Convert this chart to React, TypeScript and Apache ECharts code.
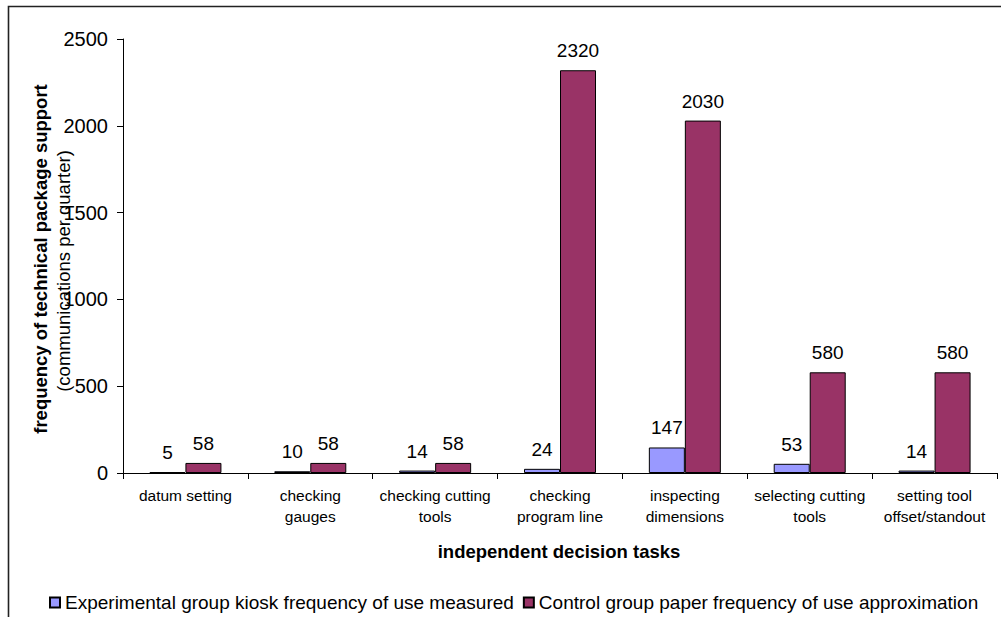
import React, { useEffect, useRef } from "react";
import * as echarts from "echarts";

const categories = [
  "datum setting",
  "checking\ngauges",
  "checking cutting\ntools",
  "checking\nprogram line",
  "inspecting\ndimensions",
  "selecting cutting\ntools",
  "setting tool\noffset/standout",
];
const experimentalValues = [5, 10, 14, 24, 147, 53, 14];
const controlValues = [58, 58, 58, 2320, 2030, 580, 580];
const seriesNames = [
  "Experimental group kiosk frequency of use measured",
  "Control group paper frequency of use approximation",
];
const yTicks = { min: 0, max: 2500, interval: 500 };

const FONT = "'Liberation Sans', Arial, Helvetica, sans-serif";

export default function App() {
  const ref = useRef<HTMLDivElement>(null);

  useEffect(() => {
    if (!ref.current) return;
    const chart = echarts.init(ref.current, null, { renderer: "svg" });

    const valueLabel = {
      show: true,
      position: "top",
      distance: 10,
      color: "#000",
      fontSize: 19,
      fontFamily: FONT,
    };

    chart.setOption({
      animation: false,
      textStyle: { fontFamily: FONT },
      grid: { left: 123, right: 4, top: 39, bottom: 144, containLabel: false },
      legend: {
        left: 44,
        top: 588,
        icon: "rect",
        itemWidth: 10,
        itemHeight: 10,
        itemGap: 9,
        textStyle: { fontSize: 19, color: "#000", fontFamily: FONT },
        data: seriesNames,
      },
      xAxis: {
        type: "category",
        data: categories,
        axisLine: { lineStyle: { color: "#000", width: 1 } },
        axisTick: { show: true, length: 6, lineStyle: { color: "#000" } },
        axisLabel: {
          interval: 0,
          margin: 12,
          color: "#000",
          fontSize: 15.5,
          lineHeight: 21,
          fontFamily: FONT,
          align: "center",
        },
      },
      yAxis: {
        type: "value",
        min: yTicks.min,
        max: yTicks.max,
        interval: yTicks.interval,
        axisLine: { show: true, lineStyle: { color: "#000", width: 1 } },
        axisTick: { show: true, length: 6, lineStyle: { color: "#000" } },
        splitLine: { show: false },
        axisLabel: {
          margin: 15,
          color: "#000",
          fontSize: 20,
          fontFamily: FONT,
          formatter: (v: number) => String(v),
        },
      },
      series: [
        {
          name: seriesNames[0],
          type: "bar",
          data: experimentalValues,
          barWidth: 36,
          barGap: "0%",
          itemStyle: { color: "#9999FF", borderColor: "#000", borderWidth: 1 },
          label: valueLabel,
        },
        {
          name: seriesNames[1],
          type: "bar",
          data: controlValues,
          barWidth: 36,
          barGap: "0%",
          itemStyle: { color: "#993366", borderColor: "#000", borderWidth: 1 },
          label: valueLabel,
        },
      ],
      graphic: [
        {
          type: "rect",
          silent: true,
          shape: { x: 8.5, y: 6.5, width: 1200, height: 800 },
          style: { fill: "none", stroke: "#222", lineWidth: 1.6 },
        },
        {
          type: "text",
          x: 40,
          y: 259,
          rotation: Math.PI / 2,
          style: {
            text: "frequency of technical package support",
            fontSize: 18.5,
            fontWeight: "bold",
            fontFamily: FONT,
            fill: "#000",
            align: "center",
            verticalAlign: "middle",
          },
        },
        {
          type: "text",
          x: 63,
          y: 271,
          rotation: Math.PI / 2,
          style: {
            text: "(communications per quarter)",
            fontSize: 18.5,
            fontFamily: FONT,
            fill: "#000",
            align: "center",
            verticalAlign: "middle",
          },
        },
        {
          type: "text",
          x: 559,
          y: 551,
          style: {
            text: "independent decision tasks",
            fontSize: 18.5,
            fontWeight: "bold",
            fontFamily: FONT,
            fill: "#000",
            align: "center",
            verticalAlign: "middle",
          },
        },
      ],
    });

    return () => chart.dispose();
  }, []);

  return (
    <div
      ref={ref}
      style={{ position: "absolute", left: 0, top: 0, width: 1001, height: 617, background: "#fff" }}
    />
  );
}
